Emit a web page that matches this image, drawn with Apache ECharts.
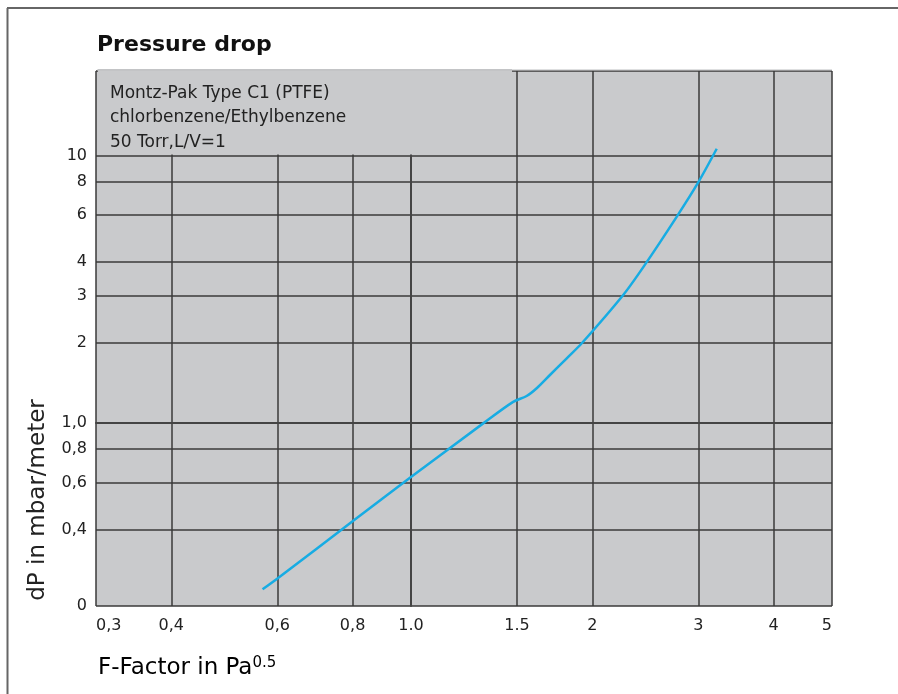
<!DOCTYPE html>
<html>
	<head>
		<meta charset="UTF-8">
		<title>Pressure drop</title>
		<style type="text/css">
			html,body{
				margin: 0;
				padding: 0;
				width: 100%;
				height: 100%;
				background: #fff;
			}
			#main{
				width: 898px;
				height: 694px;
			}
		</style>
	</head>
	<body>
		<div id="main"></div>
		<script src="https://cdn.jsdelivr.net/npm/echarts@6/dist/echarts.min.js"></script>
		<script>
			// curve (log-log chart)
			var fFactor = [0.567, 0.601, 0.801, 1.0, 1.318, 1.478, 1.556, 1.617, 1.701, 1.814, 1.921, 2.251, 2.440, 2.761, 2.995, 3.218];
			var dP = [0.239, 0.263, 0.430, 0.628, 0.997, 1.20, 1.262, 1.349, 1.512, 1.746, 1.987, 3.012, 3.877, 5.90, 7.90, 10.6];

			var xTicks = [0.3, 0.4, 0.6, 0.8, 1.0, 1.5, 2, 3, 4, 5];
			var xTickLabels = ['0,3', '0,4', '0,6', '0,8', '1.0', '1.5', '2', '3', '4', '5'];
			var yTicks = [0.207, 0.4, 0.6, 0.8, 1.0, 2, 3, 4, 6, 8, 10];
			var yTickLabels = ['0', '0,4', '0,6', '0,8', '1,0', '2', '3', '4', '6', '8', '10'];
			var xRange = [0.3, 5];
			var yRange = [0.207, 20.7];

			var infoLines = ['Montz-Pak Type C1 (PTFE)', 'chlorbenzene/Ethylbenzene', '50 Torr,L/V=1'];

			var lg = function(v){ return Math.log10(v); };
			function labelFor(ticks, labels){
				return function(v){
					for (var i = 0; i < ticks.length; i++) {
						if (Math.abs(lg(ticks[i]) - v) < 1e-6) return labels[i];
					}
					return '';
				};
			}

			var seriesData = fFactor.map(function(x, i){ return [lg(x), lg(dP[i])]; });
			var font = 'DejaVu Sans';
			var gridColor = '#3a3a3a';
			var bg = '#c9cacc';

			var myChart = echarts.init(document.getElementById('main'));
			myChart.setOption({
				backgroundColor: '#fff',
				animation: false,
				title: {
					text: 'Pressure drop',
					left: 92,
					top: 29,
					textStyle: { fontFamily: font, fontWeight: 'bold', fontSize: 22, color: '#111' }
				},
				grid: {
					left: 96, right: 66, top: 71, bottom: 88,
					show: true, backgroundColor: bg, borderWidth: 0,
					outerBoundsMode: 'none'
				},
				xAxis: {
					type: 'value',
					min: lg(xRange[0]),
					max: lg(xRange[1]),
					axisLine: { show: true, lineStyle: { color: '#444', width: 2 } },
					axisTick: { show: false, customValues: xTicks.map(lg) },
					splitLine: { show: true, lineStyle: { color: gridColor, width: 1.5 } },
					axisLabel: {
						customValues: xTicks.map(lg),
						formatter: labelFor(xTicks, xTickLabels),
						fontFamily: font, fontSize: 16, color: '#222', margin: 12,
						alignMinLabel: 'left', alignMaxLabel: 'right'
					}
				},
				yAxis: {
					type: 'value',
					min: lg(yRange[0]),
					max: lg(yRange[1]),
					axisLine: { show: true, lineStyle: { color: '#444', width: 2 } },
					axisTick: { show: false, customValues: yTicks.concat([yRange[1]]).map(lg) },
					splitLine: { show: true, lineStyle: { color: gridColor, width: 1.5 } },
					axisLabel: {
						customValues: yTicks.map(lg),
						formatter: labelFor(yTicks, yTickLabels),
						fontFamily: font, fontSize: 16, color: '#222', margin: 9
					}
				},
				graphic: [
					{ type: 'line', shape: { x1: 7, y1: 8, x2: 898, y2: 8 }, style: { stroke: '#666', lineWidth: 2 } },
					{ type: 'line', shape: { x1: 7.5, y1: 8, x2: 7.5, y2: 694 }, style: { stroke: '#666', lineWidth: 2 } },
					{ type: 'rect', shape: { x: 98, y: 69, width: 414, height: 85.5 }, style: { fill: bg }, z: 10 },
					{ type: 'line', shape: { x1: 97, y1: 70, x2: 832, y2: 70 }, style: { stroke: '#bdbec0', lineWidth: 1 }, z: 11 },
					{ type: 'text', left: 110, top: 81, z: 12,
						style: { text: infoLines.join('\n'), font: '17px "DejaVu Sans"', fill: '#222', lineHeight: 24.5 } },
					{ type: 'text', x: 98, y: 668, z: 12,
						style: {
							text: '{a|F-Factor in Pa}{b|0.5}',
							textVerticalAlign: 'middle',
							rich: {
								a: { fontFamily: font, fontSize: 23, color: '#222' },
								b: { fontFamily: font, fontSize: 15, color: '#222', verticalAlign: 'top', padding: [0, 0, 10, 0] }
							}
						} },
					{ type: 'text', x: 38, y: 500, rotation: Math.PI / 2, z: 12,
						style: { text: 'dP in mbar/meter', font: '23px "DejaVu Sans"', fill: '#222',
							textAlign: 'center', textVerticalAlign: 'middle' } }
				],
				series: [{
					type: 'line',
					data: seriesData,
					smooth: 0.3,
					showSymbol: false,
					lineStyle: { color: '#17ace3', width: 2.5 },
					z: 20
				}]
			});
		</script>
	</body>
</html>
